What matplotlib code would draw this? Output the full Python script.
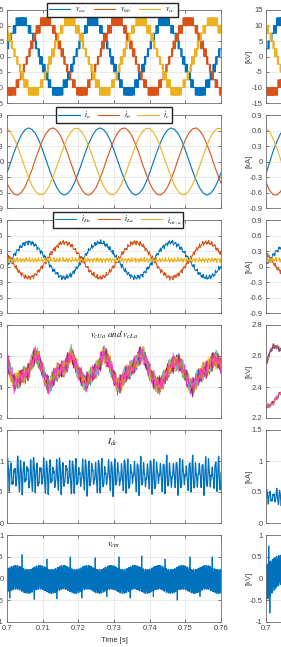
import numpy as np
import matplotlib
matplotlib.use("Agg")
import matplotlib.pyplot as plt

plt.rcParams["font.family"] = ["Liberation Sans", "DejaVu Sans"]
plt.rcParams["mathtext.fontset"] = "stix"
plt.rcParams["axes.unicode_minus"] = False

# ======================= DATA =======================
# time base: 1 ms samples 0.700 ... 0.760 s (left column), 0.700 ... 0.705 s (right column, visible part)
t_ms = np.round(0.700 + 0.001 * np.arange(61), 3)
t_r = np.round(0.700 + 0.001 * np.arange(6), 3)

# --- panel 1: arm-pair output voltage references [kV] (staircase with step level_step)
va_ref = [2.98, 6.27, 8.94, 10.74, 11.49, 11.11, 9.65, 7.23, 4.12, 0.60, -2.98, -6.27, -8.94, -10.74, -11.49, -11.11, -9.65, -7.23, -4.12, -0.60,
          2.98, 6.27, 8.94, 10.74, 11.49, 11.11, 9.65, 7.23, 4.12, 0.60, -2.98, -6.27, -8.94, -10.74, -11.49, -11.11, -9.65, -7.23, -4.12, -0.60,
          2.98, 6.27, 8.94, 10.74, 11.49, 11.11, 9.65, 7.23, 4.12, 0.60, -2.98, -6.27, -8.94, -10.74, -11.49, -11.11, -9.65, -7.23, -4.12, -0.60, 2.98]
vb_ref = [-11.11, -11.49, -10.74, -8.94, -6.27, -2.98, 0.60, 4.12, 7.23, 9.65, 11.11, 11.49, 10.74, 8.94, 6.27, 2.98, -0.60, -4.12, -7.23, -9.65,
          -11.11, -11.49, -10.74, -8.94, -6.27, -2.98, 0.60, 4.12, 7.23, 9.65, 11.11, 11.49, 10.74, 8.94, 6.27, 2.98, -0.60, -4.12, -7.23, -9.65,
          -11.11, -11.49, -10.74, -8.94, -6.27, -2.98, 0.60, 4.12, 7.23, 9.65, 11.11, 11.49, 10.74, 8.94, 6.27, 2.98, -0.60, -4.12, -7.23, -9.65, -11.11]
vc_ref = [8.13, 5.22, 1.80, -1.80, -5.22, -8.13, -10.25, -11.36, -11.36, -10.25, -8.13, -5.22, -1.80, 1.80, 5.22, 8.13, 10.25, 11.36, 11.36, 10.25,
          8.13, 5.22, 1.80, -1.80, -5.22, -8.13, -10.25, -11.36, -11.36, -10.25, -8.13, -5.22, -1.80, 1.80, 5.22, 8.13, 10.25, 11.36, 11.36, 10.25,
          8.13, 5.22, 1.80, -1.80, -5.22, -8.13, -10.25, -11.36, -11.36, -10.25, -8.13, -5.22, -1.80, 1.80, 5.22, 8.13, 10.25, 11.36, 11.36, 10.25, 8.13]
level_step = 2.5          # kV between staircase levels
carrier_freq = 2500       # Hz

# --- panel 2: phase currents [kA]
ia = [-0.22, -0.02, 0.18, 0.36, 0.51, 0.61, 0.65, 0.62, 0.54, 0.40, 0.22, 0.02, -0.18, -0.36, -0.51, -0.61, -0.65, -0.62, -0.54, -0.40,
      -0.22, -0.02, 0.18, 0.36, 0.51, 0.61, 0.65, 0.62, 0.54, 0.40, 0.22, 0.02, -0.18, -0.36, -0.51, -0.61, -0.65, -0.62, -0.54, -0.40,
      -0.22, -0.02, 0.18, 0.36, 0.51, 0.61, 0.65, 0.62, 0.54, 0.40, 0.22, 0.02, -0.18, -0.36, -0.51, -0.61, -0.65, -0.62, -0.54, -0.40, -0.22]
ib = [-0.42, -0.55, -0.63, -0.65, -0.60, -0.50, -0.34, -0.16, 0.05, 0.24, 0.42, 0.55, 0.63, 0.65, 0.60, 0.50, 0.34, 0.16, -0.05, -0.24,
      -0.42, -0.55, -0.63, -0.65, -0.60, -0.50, -0.34, -0.16, 0.05, 0.24, 0.42, 0.55, 0.63, 0.65, 0.60, 0.50, 0.34, 0.16, -0.05, -0.24,
      -0.42, -0.55, -0.63, -0.65, -0.60, -0.50, -0.34, -0.16, 0.05, 0.24, 0.42, 0.55, 0.63, 0.65, 0.60, 0.50, 0.34, 0.16, -0.05, -0.24, -0.42]
ic = [0.64, 0.57, 0.45, 0.28, 0.09, -0.11, -0.30, -0.47, -0.58, -0.64, -0.64, -0.57, -0.45, -0.28, -0.09, 0.11, 0.30, 0.47, 0.58, 0.64,
      0.64, 0.57, 0.45, 0.28, 0.09, -0.11, -0.30, -0.47, -0.58, -0.64, -0.64, -0.57, -0.45, -0.28, -0.09, 0.11, 0.30, 0.47, 0.58, 0.64,
      0.64, 0.57, 0.45, 0.28, 0.09, -0.11, -0.30, -0.47, -0.58, -0.64, -0.64, -0.57, -0.45, -0.28, -0.09, 0.11, 0.30, 0.47, 0.58, 0.64, 0.64]

# --- panel 3: upper / lower arm currents and circulating current [kA]
iUa = [0.01, 0.11, 0.22, 0.32, 0.39, 0.45, 0.47, 0.45, 0.41, 0.33, 0.24, 0.14, 0.03, -0.07, -0.14, -0.20, -0.22, -0.20, -0.16, -0.08,
       0.01, 0.11, 0.22, 0.32, 0.39, 0.45, 0.47, 0.45, 0.41, 0.33, 0.24, 0.14, 0.03, -0.07, -0.14, -0.20, -0.22, -0.20, -0.16, -0.08,
       0.01, 0.11, 0.22, 0.32, 0.39, 0.45, 0.47, 0.45, 0.41, 0.33, 0.24, 0.14, 0.03, -0.07, -0.14, -0.20, -0.22, -0.20, -0.16, -0.08, 0.01]
iLa = [0.24, 0.14, 0.03, -0.07, -0.14, -0.20, -0.22, -0.20, -0.16, -0.08, 0.01, 0.11, 0.22, 0.32, 0.39, 0.45, 0.47, 0.45, 0.41, 0.33,
       0.24, 0.14, 0.03, -0.07, -0.14, -0.20, -0.22, -0.20, -0.16, -0.08, 0.01, 0.11, 0.22, 0.32, 0.39, 0.45, 0.47, 0.45, 0.41, 0.33,
       0.24, 0.14, 0.03, -0.07, -0.14, -0.20, -0.22, -0.20, -0.16, -0.08, 0.01, 0.11, 0.22, 0.32, 0.39, 0.45, 0.47, 0.45, 0.41, 0.33, 0.24]
icir_level = 0.125
arm_ripple_freqs = [1150, 2330, 3170]
arm_ripple_amps = [0.025, 0.018, 0.012]

# --- panel 4: sub-module capacitor voltages [kV] (bundle centre) + per-line ripple phases
vc_bundle = [2.57, 2.50, 2.42, 2.44, 2.47, 2.48, 2.50, 2.56, 2.61, 2.58,
             2.50, 2.44, 2.40, 2.46, 2.50, 2.51, 2.52, 2.56, 2.61, 2.56,
             2.50, 2.46, 2.42, 2.45, 2.49, 2.51, 2.55, 2.62, 2.58, 2.54,
             2.46, 2.41, 2.43, 2.47, 2.50, 2.52, 2.55, 2.60, 2.61, 2.56,
             2.50, 2.45, 2.42, 2.41, 2.45, 2.50, 2.54, 2.56, 2.56, 2.53,
             2.48, 2.42, 2.40, 2.44, 2.47, 2.50, 2.51, 2.55, 2.58, 2.57, 2.54]
cap_ripple_freqs = [930, 1470, 2210]
cap_ripple_amps = [0.032, 0.022, 0.014]
cap_phases = [[0.0, 1.1, 2.0], [0.7, 2.9, 0.4], [1.4, 0.3, 3.1], [2.1, 4.0, 1.2], [2.8, 1.9, 5.0],
              [3.5, 5.2, 2.6], [4.2, 0.8, 4.4], [4.9, 3.4, 0.9], [5.6, 2.2, 3.7], [6.0, 4.7, 1.8]]
cap_colors = ["#FF00FF", "#0072BD", "#D95319", "#EDB120", "#7E2F8E", "#77AC30", "#4DBEEE",
              "#A2142F", "#EDB120", "#FF33CC"]

# --- panel 5: DC current [kA]
idc_level = 0.77
idc_ripple_freqs = [1100, 1370, 2750, 430]
idc_ripple_amps = [0.19, 0.08, 0.05, 0.03]

# --- panel 6: common-mode voltage [kV]
vcm_level = -0.02
vcm_hump_amp = 0.05      # 150 Hz band movement
vcm_band_half = 0.22     # switching band half width
vcm_spike_up_t = [0.7042, 0.7112, 0.7177, 0.7247, 0.7314, 0.7378, 0.7443, 0.7513, 0.7575]
vcm_spike_up_v = [0.55, 0.45, 0.50, 0.48, 0.50, 0.52, 0.45, 0.50, 0.50]
vcm_spike_dn_t = [0.7008, 0.7076, 0.7140, 0.7210, 0.7280, 0.7345, 0.7410, 0.7477, 0.7541]
vcm_spike_dn_v = [-0.45, -0.48, -0.47, -0.45, -0.42, -0.45, -0.42, -0.50, -0.42]

# --- right column (only 0.700-0.705 s visible)
va_r = [1.05, 4.69, 7.87, 10.29, 11.69, 11.95]
vb_r = [-10.88, -11.91, -11.78, -10.50, -8.18, -5.07]
vc_r = [9.83, 7.22, 3.91, 0.21, -3.51, -6.88]
ia_r = [-0.24, -0.02, 0.20, 0.38, 0.53, 0.63]
ib_r = [-0.40, -0.56, -0.64, -0.65, -0.59, -0.47]
ic_r = [0.64, 0.58, 0.44, 0.27, 0.06, -0.16]
iUa_r = [0.03, 0.12, 0.22, 0.30, 0.36, 0.42]
iLa_r = [0.28, 0.17, 0.07, -0.02, -0.09, -0.14]
icir_r = 0.13
vc_up_r = [2.54, 2.62, 2.66, 2.66, 2.64, 2.62]
vc_lo_r = [2.27, 2.28, 2.30, 2.33, 2.36, 2.38]
idc_r_level = 0.42
vcm_r_centre = [-0.12, -0.02, 0.08, 0.15, 0.20, 0.22]
vcm_r_half = [0.42, 0.40, 0.38, 0.36, 0.34, 0.33]
vcm_r_spike_t = [0.7008, 0.7011]
vcm_r_spike_v = [0.75, -0.80]

xticks = [0.70, 0.71, 0.72, 0.73, 0.74, 0.75, 0.76]
xticklabels = ["0.7", "0.71", "0.72", "0.73", "0.74", "0.75", "0.76"]
BLUE, ORANGE, YELLOW = "#0072BD", "#D95319", "#EDB120"

# ======================= helpers =======================
W, H, DPI = 281, 647, 100
dt = 5e-6
t = np.arange(0.700, 0.760 + dt / 2, dt)
tR = t[t <= 0.7052]


def pwm(tt, ts, ref_vals):
    ref = np.interp(tt, ts, ref_vals) / level_step
    lo = np.floor(ref)
    frac = ref - lo
    carrier = np.abs(((tt * carrier_freq) % 1.0) * 2.0 - 1.0)
    return (lo + (frac > carrier)) * level_step


def ripple(tt, freqs, amps, phases=None):
    out = np.zeros_like(tt)
    for k, (f, a) in enumerate(zip(freqs, amps)):
        p = 0.0 if phases is None else phases[k]
        out += a * np.sin(2 * np.pi * f * tt + p)
    return out


def add_spikes(tt, y, ts, vs, width=3):
    y = y.copy()
    for s, v in zip(ts, vs):
        i = int(np.argmin(np.abs(tt - s)))
        y[i:i + width] = v
    return y


fig = plt.figure(figsize=(W / DPI, H / DPI), dpi=DPI)
fig.patch.set_facecolor("white")
rows = [(10, 103), (115, 208), (220, 313), (325, 418), (430, 523), (535, 622)]
XL, XR, AW = 7, 266, 214


def make_ax(x0, r):
    top, bot = rows[r]
    return fig.add_axes([x0 / W, 1 - bot / H, AW / W, (bot - top) / H])


def fmt(v):
    s = f"{v:g}"
    return "0" if s in ("-0", "0") else s


def style(ax, ylim, yticks, bottom=False, ylabel=None):
    ax.set_xlim(0.7, 0.76)
    ax.set_xticks(xticks)
    ax.set_xticklabels(xticklabels)
    ax.set_ylim(*ylim)
    ax.set_yticks(yticks)
    ax.set_yticklabels([fmt(v) for v in yticks])
    ax.grid(True, color="#e2e2e2", lw=0.5)
    ax.set_axisbelow(True)
    ax.tick_params(direction="in", length=2, width=0.5, labelsize=5.5,
                   colors="#444444", pad=2.5, top=True, right=True)
    for s in ax.spines.values():
        s.set_color("#707070")
        s.set_linewidth(0.6)
    if not bottom:
        ax.tick_params(labelbottom=False)
    else:
        ax.set_xlabel("Time [s]", fontsize=5.5, color="#333333", labelpad=3)
    if ylabel:
        ax.set_ylabel(ylabel, fontsize=5.5, color="#444444")
        ax.yaxis.set_label_coords(-0.062, 0.5)


def legend(ax, labels, xc):
    ax.legend(labels, loc="center", bbox_to_anchor=(xc, 1.0), ncol=3, fontsize=5.5,
              frameon=True, fancybox=False, edgecolor="#222222", framealpha=1,
              handlelength=2.8, handletextpad=0.6, columnspacing=0.9,
              borderpad=0.25, borderaxespad=0)


ylims = [((-15, 15), [-15, -10, -5, 0, 5, 10, 15], "[kV]"),
         ((-0.9, 0.9), [-0.9, -0.6, -0.3, 0, 0.3, 0.6, 0.9], "[kA]"),
         ((-0.9, 0.9), [-0.9, -0.6, -0.3, 0, 0.3, 0.6, 0.9], "[kA]"),
         ((2.2, 2.8), [2.2, 2.4, 2.6, 2.8], "[kV]"),
         ((0, 1.5), [0, 0.5, 1, 1.5], "[kA]"),
         ((-1, 1), [-1, -0.5, 0, 0.5, 1], "[kV]")]

axL = [make_ax(XL, r) for r in range(6)]
axR = [make_ax(XR, r) for r in range(6)]

# ---------- panel 1
for ref, col in zip([va_ref, vb_ref, vc_ref], [BLUE, ORANGE, YELLOW]):
    axL[0].plot(t, pwm(t, t_ms, ref), color=col, lw=0.8)
for ref, col in zip([va_r, vb_r, vc_r], [BLUE, ORANGE, YELLOW]):
    axR[0].plot(tR, pwm(tR, t_r, ref), color=col, lw=0.8)
legend(axL[0], [r"$v_{aa'}$", r"$v_{bb'}$", r"$v_{cc'}$"], 0.493)

# ---------- panel 2
for y, col in zip([ia, ib, ic], [BLUE, ORANGE, YELLOW]):
    axL[1].plot(t_ms, y, color=col, lw=0.8)
for y, col in zip([ia_r, ib_r, ic_r], [BLUE, ORANGE, YELLOW]):
    axR[1].plot(t_r, y, color=col, lw=0.8)
legend(axL[1], [r"$i_a$", r"$i_b$", r"$i_c$"], 0.5)

# ---------- panel 3
t3 = np.arange(0.700, 0.760 + 1e-5, 2e-5)
t3R = t3[t3 <= 0.7052]
axL[2].plot(t3, np.interp(t3, t_ms, iUa) + ripple(t3, arm_ripple_freqs, arm_ripple_amps), color=BLUE, lw=0.7)
axL[2].plot(t3, np.interp(t3, t_ms, iLa) + ripple(t3, arm_ripple_freqs, arm_ripple_amps, [1.5, 2.5, 0.7]), color=ORANGE, lw=0.7)
axL[2].plot(t3, icir_level + ripple(t3, arm_ripple_freqs, arm_ripple_amps, [0.8, 4.0, 2.2]), color=YELLOW, lw=0.7)
axR[2].plot(t3R, np.interp(t3R, t_r, iUa_r) + ripple(t3R, arm_ripple_freqs, arm_ripple_amps), color=BLUE, lw=0.7)
axR[2].plot(t3R, np.interp(t3R, t_r, iLa_r) + ripple(t3R, arm_ripple_freqs, arm_ripple_amps, [1.5, 2.5, 0.7]), color=ORANGE, lw=0.7)
axR[2].plot(t3R, icir_r + ripple(t3R, arm_ripple_freqs, arm_ripple_amps, [0.8, 4.0, 2.2]), color=YELLOW, lw=0.7)
legend(axL[2], [r"$i_{Ua}$", r"$i_{La}$", r"$i_{cir,a}$"], 0.52)

# ---------- panel 4
t4 = np.arange(0.700, 0.760 + 1e-4, 2e-4)
t4R = t4[t4 <= 0.7052]
for k, (ph, col) in enumerate(zip(cap_phases, cap_colors)):
    axL[3].plot(t4, np.interp(t4, t_ms, vc_bundle) + ripple(t4, cap_ripple_freqs, cap_ripple_amps, ph),
                color=col, lw=0.6)
    base = vc_up_r if k < 5 else vc_lo_r
    axR[3].plot(t4R, np.interp(t4R, t_r, base) + 0.3 * ripple(t4R, cap_ripple_freqs, cap_ripple_amps, ph),
                color=col, lw=0.6)
axL[3].text(0.39, 0.89, r"$v_{cUa}\ and\ v_{cLa}$", transform=axL[3].transAxes,
            fontsize=6.5, ha="left", va="center", color="#111111")

# ---------- panel 5
t5 = np.arange(0.700, 0.760 + 1e-5, 2e-5)
t5R = t5[t5 <= 0.7052]
axL[4].plot(t5, idc_level + ripple(t5, idc_ripple_freqs, idc_ripple_amps), color=BLUE, lw=0.9)
axR[4].plot(t5R, idc_r_level + 0.45 * ripple(t5R, idc_ripple_freqs, idc_ripple_amps), color=BLUE, lw=0.9)
axL[4].text(0.495, 0.87, r"$I_{dc}$", transform=axL[4].transAxes,
            fontsize=6.5, ha="center", va="center", color="#111111")

# ---------- panel 6
sw = np.sign(np.sin(2 * np.pi * 3000 * t)) + 0.25 * np.sin(2 * np.pi * 4700 * t)
vcm = vcm_level + vcm_hump_amp * np.sin(2 * np.pi * 150 * (t - 0.7025) + np.pi / 2) + vcm_band_half * sw
vcm = add_spikes(t, vcm, vcm_spike_up_t, vcm_spike_up_v)
vcm = add_spikes(t, vcm, vcm_spike_dn_t, vcm_spike_dn_v)
axL[5].plot(t, vcm, color=BLUE, lw=0.6)
swR = sw[:len(tR)]
vcmR = np.interp(tR, t_r, vcm_r_centre) + np.interp(tR, t_r, vcm_r_half) * swR / 1.25
vcmR = add_spikes(tR, vcmR, vcm_r_spike_t, vcm_r_spike_v)
axR[5].plot(tR, vcmR, color=BLUE, lw=0.6)
axL[5].text(0.5, 0.885, r"$v_{cm}$", transform=axL[5].transAxes,
            fontsize=6.5, ha="center", va="center", color="#111111")

for r in range(6):
    ylim, yt, lab = ylims[r]
    style(axL[r], ylim, yt, bottom=(r == 5))
    style(axR[r], ylim, yt, bottom=(r == 5), ylabel=lab)

fig.savefig("out.png", dpi=DPI)
